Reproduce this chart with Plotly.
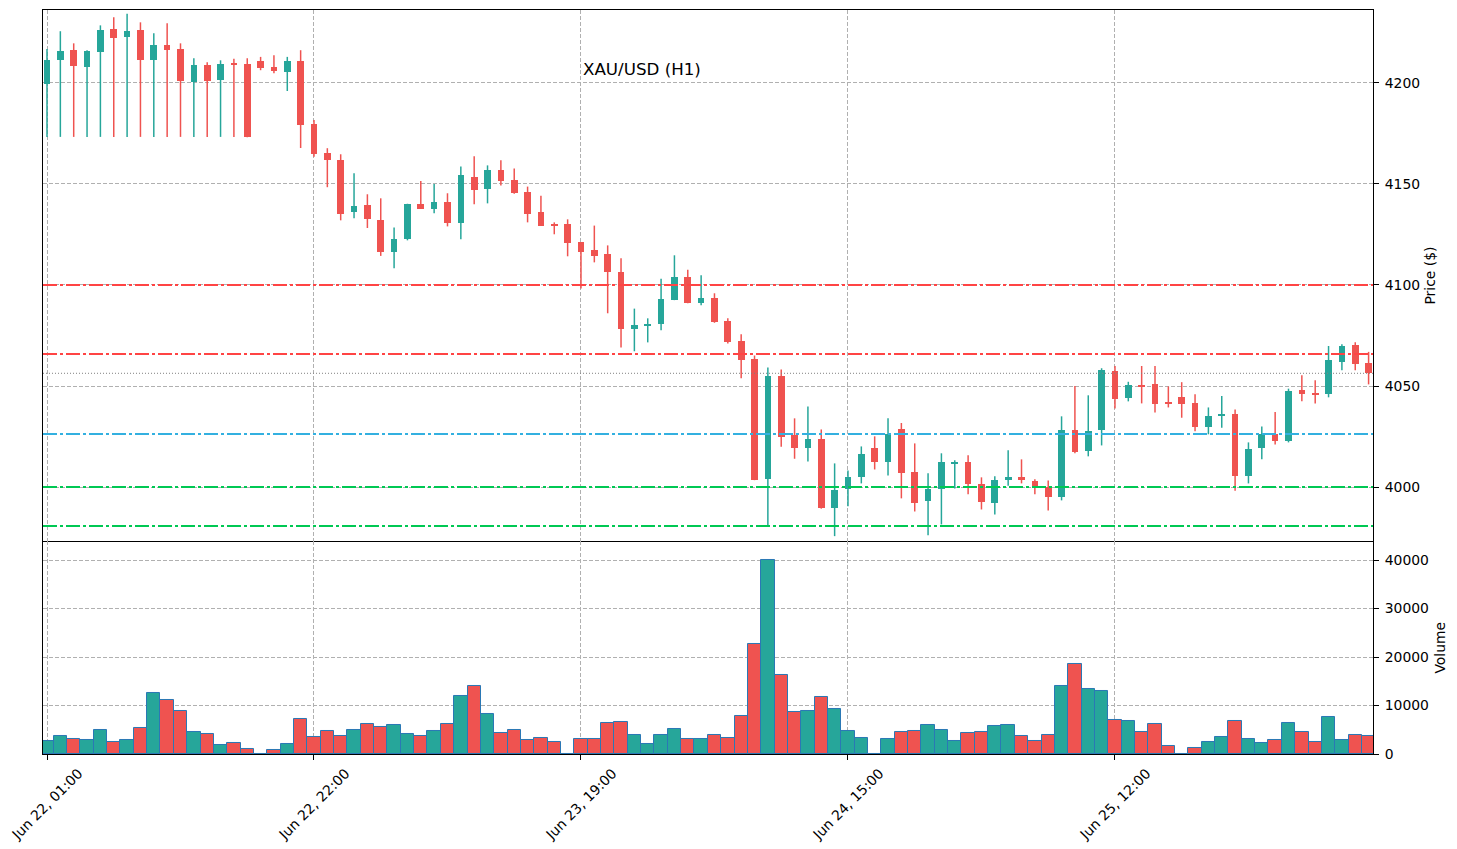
import plotly.graph_objects as go

# ---------------- data ----------------
opens = [4199.4, 4211.5, 4216.2, 4208.1, 4215.5, 4226.6, 4222.9, 4226.1, 4211.5, 4218.6,
         4216.7, 4200.7, 4208.7, 4201.7, 4209.7, 4209.2, 4210.7, 4207.8, 4205.3, 4210.7,
         4179.7, 4165.3, 4161.7, 4136.0, 4139.4, 4132.0, 4116.2, 4122.9, 4139.9, 4137.5,
         4140.9, 4130.9, 4153.3, 4147.7, 4156.8, 4151.8, 4145.9, 4136.0, 4130.0, 4130.0,
         4121.1, 4117.2, 4115.2, 4106.2, 4078.0, 4080.0, 4080.9, 4092.7, 4103.8, 4091.3,
         4093.4, 4082.0, 4072.1, 4063.2, 4004.1, 4054.8, 4025.6, 4019.4, 4023.6, 3989.8,
         3998.8, 4005.1, 4019.1, 4012.5, 4028.5, 4007.4, 3992.9, 3998.8, 4011.6, 4012.4,
         4001.3, 3992.2, 4003.6, 4004.8, 4002.8, 3999.8, 3995.2, 4028.0, 4018.0, 4028.1,
         4057.3, 4044.2, 4050.6, 4051.0, 4042.1, 4044.4, 4041.4, 4029.9, 4035.3, 4036.0,
         4005.6, 4019.5, 4026.3, 4023.0, 4047.9, 4046.2, 4045.9, 4062.1, 4070.1, 4061.2]
highs = [4216.8, 4225.6, 4219.6, 4216.2, 4228.5, 4232.5, 4234.2, 4230.0, 4224.6, 4229.5,
         4219.6, 4212.2, 4210.2, 4211.2, 4212.0, 4212.2, 4212.9, 4213.7, 4212.9, 4216.2,
         4181.7, 4167.7, 4164.7, 4155.3, 4144.9, 4142.9, 4128.5, 4140.2, 4151.5, 4150.0,
         4145.4, 4158.7, 4163.7, 4159.2, 4161.7, 4157.7, 4148.7, 4144.2, 4131.0, 4132.5,
         4121.3, 4129.4, 4119.6, 4113.2, 4088.3, 4083.5, 4103.1, 4114.7, 4107.6, 4104.8,
         4095.9, 4083.5, 4075.6, 4065.1, 4059.2, 4058.2, 4034.0, 4039.9, 4028.5, 4011.7,
         4008.2, 4020.1, 4025.1, 4034.0, 4031.7, 4021.6, 4006.8, 4016.7, 4013.2, 4015.7,
         4004.8, 4005.3, 4018.2, 4013.7, 4003.8, 4003.3, 4035.0, 4050.0, 4045.4, 4058.8,
         4059.9, 4052.1, 4059.9, 4059.9, 4049.8, 4051.9, 4045.9, 4039.4, 4045.0, 4038.4,
         4022.1, 4030.0, 4037.1, 4048.7, 4055.3, 4052.8, 4069.8, 4070.7, 4071.7, 4066.9]
lows = [4173.3, 4173.3, 4173.3, 4173.3, 4173.3, 4173.3, 4173.3, 4173.3, 4173.3, 4173.3,
        4173.3, 4173.3, 4173.3, 4173.3, 4173.3, 4173.1, 4206.3, 4204.8, 4196.0, 4167.8,
        4163.5, 4148.4, 4132.0, 4133.0, 4128.2, 4114.4, 4108.3, 4122.1, 4137.6, 4135.5,
        4129.0, 4122.6, 4139.9, 4140.4, 4149.2, 4145.2, 4131.0, 4129.2, 4125.1, 4114.2,
        4098.3, 4111.2, 4086.0, 4069.1, 4067.2, 4071.6, 4077.6, 4092.5, 4091.0, 4090.0,
        4081.3, 4071.1, 4053.8, 4003.4, 3980.4, 4019.9, 4014.0, 4012.7, 3989.3, 3975.7,
        3990.5, 4001.8, 4008.7, 4005.7, 3994.4, 3987.9, 3976.1, 3981.5, 3999.3, 3996.4,
        3988.9, 3986.4, 4000.6, 4001.8, 3996.4, 3988.4, 3993.4, 4016.7, 4015.2, 4020.6,
        4038.9, 4042.4, 4041.4, 4036.9, 4039.4, 4034.3, 4027.6, 4026.1, 4029.4, 3998.2,
        4001.8, 4013.7, 4021.1, 4022.1, 4042.4, 4041.4, 4044.4, 4057.8, 4057.8, 4050.8]
closes = [4211.2, 4215.8, 4208.6, 4215.7, 4226.1, 4222.4, 4225.6, 4211.5, 4218.6, 4216.5,
          4201.2, 4208.7, 4201.2, 4209.2, 4209.1, 4173.1, 4207.6, 4205.8, 4210.7, 4179.4,
          4165.0, 4162.0, 4135.3, 4138.9, 4132.5, 4116.2, 4122.6, 4139.9, 4137.8, 4140.9,
          4130.9, 4154.3, 4147.2, 4156.8, 4151.6, 4145.7, 4135.3, 4129.4, 4129.0, 4121.0,
          4116.5, 4114.5, 4106.6, 4078.4, 4080.0, 4080.4, 4092.9, 4103.8, 4091.3, 4093.4,
          4081.8, 4071.9, 4063.0, 4003.6, 4054.8, 4024.9, 4019.4, 4023.6, 3989.8, 3998.3,
          4004.8, 4016.2, 4012.2, 4026.4, 4007.1, 3992.2, 3998.8, 4012.2, 4012.2, 4001.6,
          3992.7, 4003.3, 4004.8, 4003.3, 3999.3, 3995.2, 4028.0, 4017.5, 4027.5, 4057.8,
          4043.7, 4050.3, 4050.0, 4041.3, 4041.3, 4041.3, 4029.9, 4035.0, 4036.0, 4005.6,
          4018.8, 4026.1, 4023.0, 4047.4, 4046.2, 4045.7, 4062.7, 4069.8, 4061.1, 4056.3]
volumes = [2612, 3643, 3024, 2818, 4880, 2406, 2818, 5293, 12510, 11066,
           8798, 4468, 4056, 1787, 2200, 963, 0, 756, 1994, 7149,
           3437, 4674, 3643, 4880, 6118, 5499, 5912, 4056, 3643, 4674,
           6118, 11891, 13953, 8180, 4262, 4880, 2818, 3231, 2406, 0,
           3024, 3024, 6324, 6530, 3849, 1994, 3849, 5087, 3024, 3024,
           3849, 3231, 7767, 22613, 39950, 16221, 8592, 8798, 11685, 9211,
           4674, 3231, 0, 3024, 4468, 4674, 5912, 4880, 2612, 4262,
           4468, 5705, 5912, 3643, 2612, 3849, 13953, 18489, 13335, 12922,
           6942, 6736, 4468, 6118, 1581, 0, 1169, 2406, 3437, 6736,
           3024, 2200, 2818, 6324, 4468, 2406, 7561, 2818, 3849, 3643]

tick_positions = [0, 20, 40, 60, 80]
tick_labels = ["Jun 22, 01:00", "Jun 22, 22:00", "Jun 23, 19:00", "Jun 24, 15:00", "Jun 25, 12:00"]
price_ticks = [4000, 4050, 4100, 4150, 4200]
volume_ticks = [0, 10000, 20000, 30000, 40000]

resistance_levels = [4100.0, 4065.8]
pivot_levels = [4026.2]
support_levels = [4000.0, 3980.7]

title_text = "XAU/USD (H1)"

# ---------------- styling ----------------
UP = "#26a69a"
DOWN = "#ef5350"
FONT = "DejaVu Sans"
FS = 13.9
n = len(closes)
idx = list(range(n))
is_up = [c >= o for o, c in zip(opens, closes)]

fig = go.Figure()

# wicks
for flag, color in [(True, UP), (False, DOWN)]:
    xs, ys = [], []
    for i in idx:
        if is_up[i] == flag:
            xs += [i, i, None]
            ys += [lows[i], highs[i], None]
    fig.add_trace(go.Scatter(x=xs, y=ys, mode="lines", line=dict(color=color, width=1.5),
                             xaxis="x", yaxis="y", hoverinfo="skip", showlegend=False))

# bodies
for flag, color in [(True, UP), (False, DOWN)]:
    sel = [i for i in idx if is_up[i] == flag]
    base = [min(opens[i], closes[i]) for i in sel]
    height = [max(abs(closes[i] - opens[i]), 0.6) for i in sel]
    fig.add_trace(go.Bar(x=sel, y=height, base=base, width=0.5,
                         marker=dict(color=color, line=dict(width=0)),
                         xaxis="x", yaxis="y", showlegend=False))

# volume
fig.add_trace(go.Bar(x=idx, y=volumes, width=1.0,
                     marker=dict(color=[UP if u else DOWN for u in is_up],
                                 line=dict(color="#2a78b5", width=1)),
                     xaxis="x2", yaxis="y2", showlegend=False))

# horizontal levels
shapes = []
for levels, color in [(resistance_levels, "#ff4444"), (pivot_levels, "#33b0e0"), (support_levels, "#00c853")]:
    for lvl in levels:
        shapes.append(dict(type="line", xref="x domain", x0=0, x1=1, yref="y", y0=lvl, y1=lvl,
                           line=dict(color=color, width=2, dash="14px,3px,3px,3px"), layer="above"))
shapes.append(dict(type="line", xref="x domain", x0=0, x1=1, yref="y", y0=closes[-1], y1=closes[-1],
                   line=dict(color="#808080", width=1, dash="1px,2px"), layer="above"))

grid = dict(showgrid=True, gridcolor="#b0b0b0", gridwidth=1, griddash="4px,2px", zeroline=False,
            automargin=False)
tickfont = dict(family=FONT, size=FS, color="black")

# x tick labels, rotated 45 degrees and centred on their ticks
annotations = []
for pos, lab in zip(tick_positions, tick_labels):
    annotations.append(dict(text=lab, xref="x2", yref="paper", x=pos, y=-0.0672, textangle=-45,
                            xanchor="center", yanchor="middle", showarrow=False, font=tickfont))
annotations += [
    dict(text=title_text, xref="paper", yref="paper", x=0.4504, y=0.9207,
         xanchor="center", yanchor="middle", showarrow=False,
         font=dict(family=FONT, size=16.7, color="black")),
    dict(text="Price ($)", xref="paper", yref="paper", x=1.0429, y=0.6432, textangle=-90,
         xanchor="center", yanchor="middle", showarrow=False, font=tickfont),
    dict(text="Volume", xref="paper", yref="paper", x=1.0504, y=0.1431, textangle=-90,
         xanchor="center", yanchor="middle", showarrow=False, font=tickfont),
]

x_range = [-0.3, 99.33]
fig.update_layout(
    width=1457, height=849,
    margin=dict(l=43, r=84, t=10, b=95),
    paper_bgcolor="white", plot_bgcolor="white",
    barmode="overlay", bargap=0, showlegend=False,
    font=dict(family=FONT, size=FS, color="black"),
    shapes=shapes,
    annotations=annotations,
    xaxis=dict(domain=[0, 1], anchor="y", range=x_range, tickvals=tick_positions,
               showticklabels=False, ticks="", showline=True, mirror=True,
               linecolor="black", linewidth=1, **grid),
    xaxis2=dict(domain=[0, 1], anchor="y2", range=x_range, matches="x", tickvals=tick_positions,
                showticklabels=False, ticks="outside", ticklen=5, tickcolor="black",
                showline=True, mirror=False, linecolor="black", linewidth=1, **grid),
    yaxis=dict(domain=[0.2863, 1], anchor="x", side="right", range=[3973.3, 4236.1],
               tickvals=price_ticks, ticks="outside", ticklen=5, tickcolor="black",
               ticklabelstandoff=3, tickfont=tickfont,
               showline=True, mirror=True, linecolor="black", linewidth=1, **grid),
    yaxis2=dict(domain=[0, 0.2863], anchor="x2", side="right", range=[0, 43930],
                tickvals=volume_ticks, tickformat="d", ticks="outside", ticklen=5, tickcolor="black",
                ticklabelstandoff=3, tickfont=tickfont,
                showline=True, mirror=True, linecolor="black", linewidth=1, **grid),
)

fig.write_html("out.html")
